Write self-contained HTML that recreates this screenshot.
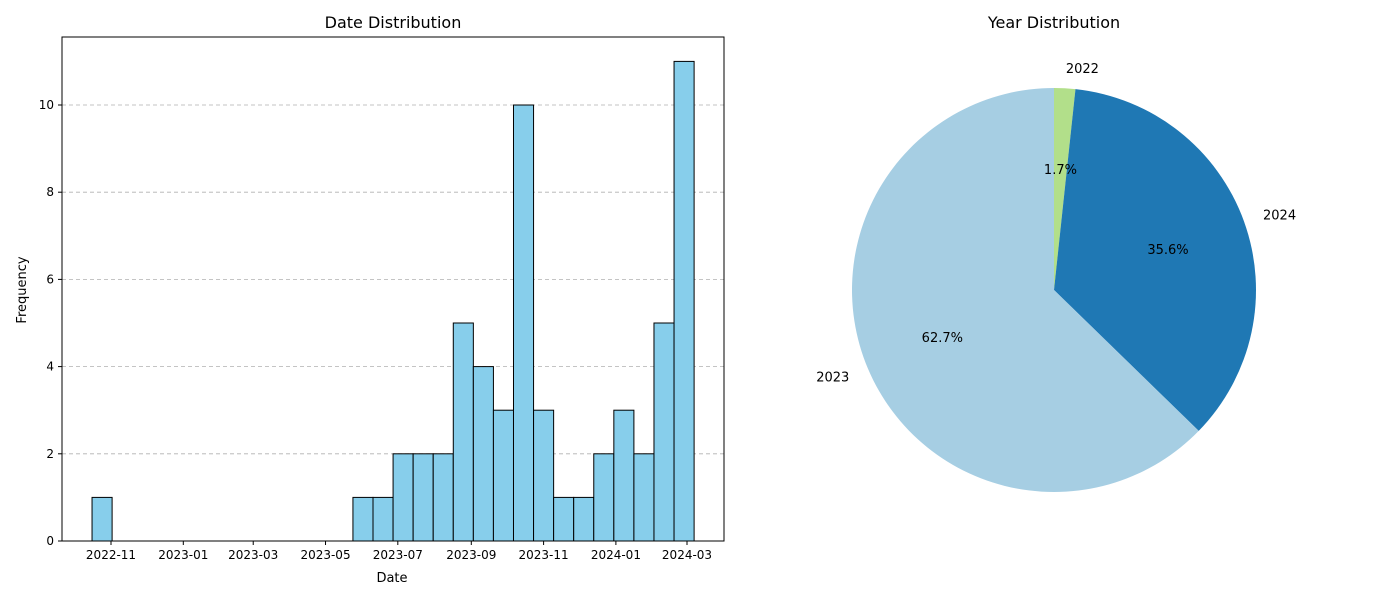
<!DOCTYPE html>
<html><head><meta charset="utf-8"><style>
body{margin:0;background:#fff;font-family:"Liberation Sans","DejaVu Sans",sans-serif}
svg text{font-family:"DejaVu Sans","Liberation Sans",sans-serif;fill:#000}
</style></head><body>
<svg id="c" width="1400" height="600" xmlns="http://www.w3.org/2000/svg"></svg>
<script>
const binCounts=[1,0,0,0,0,0,0,0,0,0,0,0,0,1,1,2,2,2,5,4,3,10,3,1,1,2,3,2,5,11];
const binStart="2022-10-16", binEnd="2024-03-07";
const xTickLabels=["2022-11","2023-01","2023-03","2023-05","2023-07","2023-09","2023-11","2024-01","2024-03"];
const yTicks=[0,2,4,6,8,10];
const pieLabels=["2022","2024","2023"];
const pieValues=[1,21,37];
const pieColors=["#b2df8a","#1f78b4","#a6cee3"];

const NS="http://www.w3.org/2000/svg", svg=document.getElementById('c');
function mk(t,a,p){const e=document.createElementNS(NS,t);for(const k in a)e.setAttribute(k,a[k]);(p||svg).appendChild(e);return e;}
function day(s){return Date.parse(s+"T00:00:00Z")/864e5;}
const L=62,R=724,T=37,B=541;
const d0=day("2022-11-01"),d1=day("2024-03-01");
const X=d=>111+(d-d0)*(687-111)/(d1-d0);
const Y=v=>B-v*(B-105)/10;
yTicks.forEach(v=>{if(v>0){const g=mk('line',{x1:L,x2:R,y1:Y(v),y2:Y(v),stroke:'#b0b0b0','stroke-dasharray':'4,3','stroke-width':0.8});}});
const s=day(binStart),e=day(binEnd),w=(e-s)/binCounts.length;
binCounts.forEach((c,i)=>{if(c>0){const x0=X(s+i*w),x1=X(s+(i+1)*w);const r=mk('rect',{x:x0,y:Y(c),width:x1-x0,height:Y(0)-Y(c),fill:'#87ceeb',stroke:'#000','stroke-width':1});}});
const fr=mk('rect',{x:L,y:T,width:R-L,height:B-T,fill:'none',stroke:'#000','stroke-width':1});

yTicks.forEach(v=>{mk('line',{x1:L-4,x2:L,y1:Y(v),y2:Y(v),stroke:'#000'});const t=mk('text',{x:L-8,y:Y(v)+4,'text-anchor':'end','font-size':12});t.textContent=v;});
xTickLabels.forEach(l=>{const x=X(day(l+"-01"));mk('line',{x1:x,x2:x,y1:B,y2:B+4,stroke:'#000'});const t=mk('text',{x:x,y:B+18,'text-anchor':'middle','font-size':12});t.textContent=l;});
let t=mk('text',{x:393,y:28,'text-anchor':'middle','font-size':16});t.textContent="Date Distribution";
t=mk('text',{x:392,y:582,'text-anchor':'middle','font-size':13});t.textContent="Date";
t=mk('text',{x:26,y:290,'text-anchor':'middle','font-size':13,transform:'rotate(-90 26 290)'});t.textContent="Frequency";
const cx=1054,cy=290,rad=202,tot=pieValues.reduce((a,b)=>a+b,0);
let ang=0;const mids=[];
pieValues.forEach((v,i)=>{const a0=ang,a1=ang+v/tot*2*Math.PI;ang=a1;
 const p=a=>[cx+rad*Math.sin(a),cy-rad*Math.cos(a)];const [x0,y0]=p(a0),[x1,y1]=p(a1);
 const sl=mk('path',{d:`M${cx},${cy}L${x0},${y0}A${rad},${rad} 0 ${a1-a0>Math.PI?1:0} 1 ${x1},${y1}Z`,fill:pieColors[i]});
 
 mids.push((a0+a1)/2);
});
pieValues.forEach((v,i)=>{const m=mids[i];
 let lt=mk('text',{x:cx+1.1*rad*Math.sin(m),y:cy-1.1*rad*Math.cos(m)+5,'text-anchor':Math.sin(m)>0.05?'start':(Math.sin(m)<-0.05?'end':'middle'),'font-size':13});lt.textContent=pieLabels[i];
 
 let pt=mk('text',{x:cx+0.6*rad*Math.sin(m),y:cy-0.6*rad*Math.cos(m)+5,'text-anchor':'middle','font-size':13});pt.textContent=(v/tot*100).toFixed(1)+"%";
 
});
t=mk('text',{x:1054,y:28,'text-anchor':'middle','font-size':16});t.textContent="Year Distribution";
</script>
</body></html>
